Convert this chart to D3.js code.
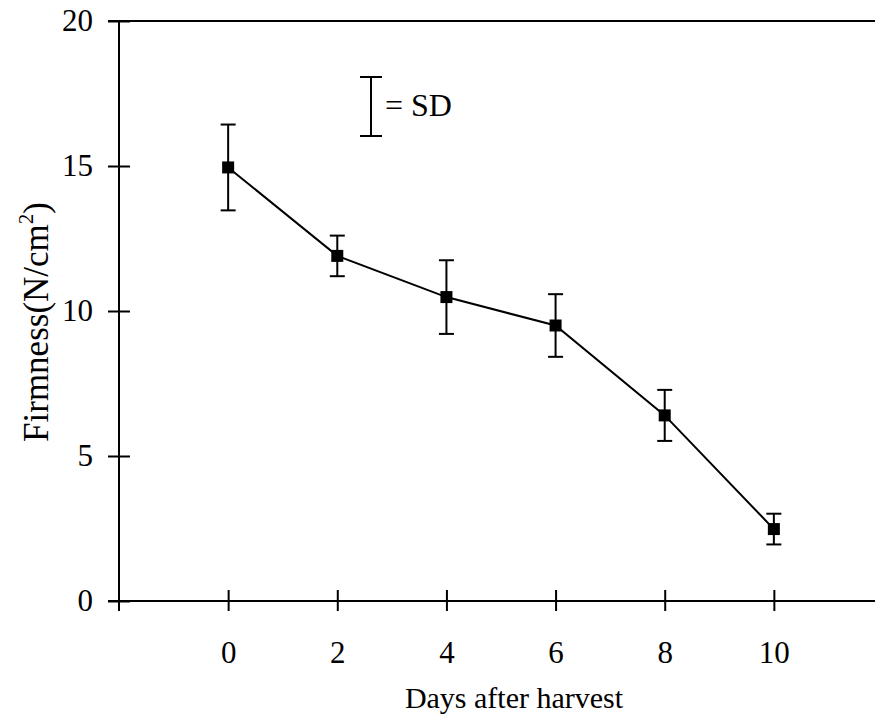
<!DOCTYPE html>
<html>
<head>
<meta charset="utf-8">
<script src="https://cdn.jsdelivr.net/npm/d3@7"></script>
<style>
  html, body { margin: 0; padding: 0; background: #fff; }
  svg { display: block; }
  text { font-family: "Liberation Serif", "Times New Roman", serif; fill: #000; }
</style>
</head>
<body>
<svg id="chart" width="875" height="722"></svg>
<script>
// ---- data ----
const days = [0, 2, 4, 6, 8, 10];
const firmness = [14.95, 11.9, 10.48, 9.5, 6.4, 2.48];
const sd = [1.48, 0.7, 1.27, 1.08, 0.88, 0.53];
const xTickValues = [0, 2, 4, 6, 8, 10];
const yTickValues = [0, 5, 10, 15, 20];
const xLabel = "Days after harvest";
const yLabel = "Firmness(N/cm";
const legendText = "= SD";

// ---- layout ----
const W = 875, H = 722;
const FONT = '"Liberation Serif", "Times New Roman", serif';
const svg = d3.select("#chart");
const x = d3.scaleLinear().domain([-2, 12]).range([119, 883]);
const y = d3.scaleLinear().domain([0, 20]).range([601, 21]);
const FS = 30;
const TFS = 31;

const g = svg.append("g");

// top border line
g.append("line")
  .attr("x1", 108).attr("x2", W).attr("y1", y(20)).attr("y2", y(20))
  .attr("stroke", "#000").attr("stroke-width", 2);

// y axis (ticks crossing)
const yAxis = d3.axisLeft(y).tickValues(yTickValues).tickSize(11).tickSizeOuter(0);
const yg = g.append("g").attr("transform", `translate(${x(-2)},0)`).call(yAxis)
  .attr("font-family", FONT).attr("font-size", TFS);
yg.select(".domain").remove();
yg.selectAll(".tick line").attr("x2", -11).attr("x1", 11).attr("stroke-width", 2);
yg.selectAll(".tick text").attr("font-size", TFS).attr("font-family", FONT).attr("x", -26);
g.append("line").attr("x1", x(-2)).attr("x2", x(-2)).attr("y1", y(20)).attr("y2", y(0) + 10)
  .attr("stroke", "#000").attr("stroke-width", 2);

// x axis (ticks crossing)
const xAxis = d3.axisBottom(x).tickValues(xTickValues).tickSize(11).tickSizeOuter(0).tickPadding(29);
const xg = g.append("g").attr("transform", `translate(0,${y(0)})`).call(xAxis)
  .attr("font-family", FONT).attr("font-size", TFS);
xg.select(".domain").remove();
xg.selectAll(".tick line").attr("y1", -11).attr("y2", 10).attr("stroke-width", 2);
xg.selectAll(".tick text").attr("font-size", TFS).attr("font-family", FONT);
g.append("line").attr("x1", 108).attr("x2", W).attr("y1", y(0)).attr("y2", y(0))
  .attr("stroke", "#000").attr("stroke-width", 2);

// axis labels
g.append("text").attr("x", 514).attr("y", 708)
  .attr("text-anchor", "middle").attr("font-size", FS).attr("font-family", FONT).text(xLabel);

const YFS = 35;
const yl = g.append("text")
  .attr("transform", `translate(48,322) rotate(-90)`)
  .attr("text-anchor", "middle").attr("font-size", YFS).attr("font-family", FONT);
yl.append("tspan").text(yLabel);
yl.append("tspan").attr("font-size", YFS * 0.6).attr("dy", -15).text("2");
yl.append("tspan").attr("dy", 15).text(")");

// data
const pts = days.map((d, i) => ({ d, v: firmness[i], s: sd[i] }));

g.append("path").datum(pts)
  .attr("fill", "none").attr("stroke", "#000").attr("stroke-width", 2)
  .attr("d", d3.line().x(p => x(p.d)).y(p => y(p.v)));

const eb = g.append("g").attr("stroke", "#000").attr("stroke-width", 2);
pts.forEach(p => {
  eb.append("line").attr("x1", x(p.d)).attr("x2", x(p.d)).attr("y1", y(p.v + p.s)).attr("y2", y(p.v - p.s));
  eb.append("line").attr("x1", x(p.d) - 7.5).attr("x2", x(p.d) + 7.5).attr("y1", y(p.v + p.s)).attr("y2", y(p.v + p.s));
  eb.append("line").attr("x1", x(p.d) - 7.5).attr("x2", x(p.d) + 7.5).attr("y1", y(p.v - p.s)).attr("y2", y(p.v - p.s));
});

g.selectAll("rect.m").data(pts).enter().append("rect")
  .attr("class", "m")
  .attr("x", p => x(p.d) - 6).attr("y", p => y(p.v) - 6)
  .attr("width", 12).attr("height", 12).attr("fill", "#000");

// legend
const lg = g.append("g").attr("stroke", "#000").attr("stroke-width", 2);
lg.append("line").attr("x1", 371).attr("x2", 371).attr("y1", 77).attr("y2", 136);
lg.append("line").attr("x1", 360).attr("x2", 382).attr("y1", 77).attr("y2", 77);
lg.append("line").attr("x1", 360).attr("x2", 382).attr("y1", 136).attr("y2", 136);
g.append("text").attr("x", 385).attr("y", 116).attr("font-size", 32).attr("font-family", FONT).text(legendText);
</script>
</body>
</html>
